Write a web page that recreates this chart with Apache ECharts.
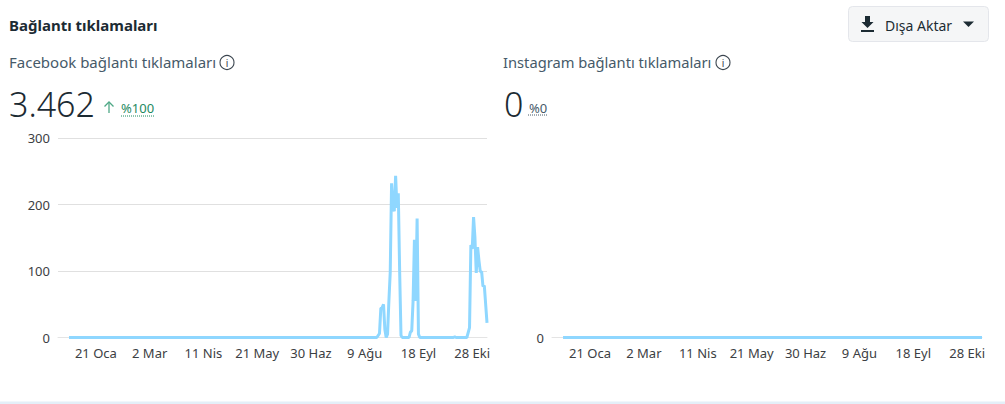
<!DOCTYPE html>
<html><head><meta charset="utf-8">
<style>html,body{margin:0;padding:0;background:#fff}#c{width:1005px;height:404px}</style>
<script src="https://cdn.jsdelivr.net/npm/echarts@6/dist/echarts.min.js"></script>
</head><body><div id="c"></div>
<script>
const tickDays   = [20,60,100,140,180,220,260,300];
const tickLabels = ['21 Oca','2 Mar','11 Nis','21 May','30 Haz','9 Ağu','18 Eyl','28 Eki'];
const fbDays   = [0,229,230,231,232,233,234,235,236,237,238,239,240,241,242,243,244,245,246,247,248,253,254,255,256,257,258,259,260,261,286,287,288,296,298,299,300,301,302,303,304,305,306,307,308,309,310,311];
const fbValues = [0,0,3,6,44,45,50,12,0,5,55,98,232,195,190,243,195,217,100,3,0,0,8,10,55,147,55,179,5,0,0,1,0,0,15,139,133,181,151,97,136,116,99,99,77,78,50,22];
const igDays   = [0,311];
const igValues = [0,0];
const yTicksIg = [0];
const pair = (a,b)=>a.map((d,i)=>[d,b[i]]);

const font='"Noto Sans", sans-serif';
const lineColor='#8fd7ff';
function xAxis(i,min){return {gridIndex:i,type:'value',min:min,max:311,
  splitLine:{show:false},
  axisLine:{show:true,onZero:false,lineStyle:{color:'#e4e4e4',width:1}},
  axisTick:{show:false},
  axisLabel:{customValues:tickDays,color:'#3c4043',fontFamily:font,fontSize:13,margin:9,hideOverlap:false,
    formatter:v=>tickLabels[tickDays.indexOf(v)]}};}
function txt(x,y,s,size,color,weight){return {type:'text',x:x,y:y,silent:true,
  style:{text:s,font:(weight||400)+' '+size+'px '+font,fill:color,verticalAlign:'middle'}};}
function info(x,y){return [
  {type:'circle',silent:true,shape:{cx:x,cy:y,r:7},style:{fill:'none',stroke:'#3c4650',lineWidth:1.1}},
  {type:'text',silent:true,x:x,y:y,style:{text:'i',font:'400 10px '+font,fill:'#3c4650',align:'center',verticalAlign:'middle'}}];}
const graphicEls=[
  txt(9,25,'Bağlantı tıklamaları',15,'#1c2b33',700),
  txt(9,62,'Facebook bağlantı tıklamaları',15,'#465a69',400),
  ...info(227,62.5),
  txt(9,104,'3.462',34,'#1c2b33',300),
  {type:'polyline',silent:true,shape:{points:[[109,113],[109,102]]},style:{stroke:'#4fa886',fill:'none',lineWidth:1.3}},
  {type:'polyline',silent:true,shape:{points:[[104.5,106.5],[109,102],[113.5,106.5]]},style:{stroke:'#4fa886',fill:'none',lineWidth:1.3}},
  txt(121,108,'%100',13,'#1e8a5f',400),
  {type:'line',silent:true,shape:{x1:121,y1:116,x2:154,y2:116},style:{stroke:'#1e8a5f',lineWidth:1,lineDash:[1,1]}},
  {type:'text',silent:true,x:503,y:62,style:{text:'Instagram bağlantı tıklamaları',font:'400 14.7px '+font,fill:'#465a69',verticalAlign:'middle'}},
  ...info(723,62.5),
  txt(504,104,'0',34,'#1c2b33',300),
  txt(529,108,'%0',13,'#465a69',400),
  {type:'line',silent:true,shape:{x1:528,y1:115,x2:547,y2:115},style:{stroke:'#465a69',lineWidth:1,lineDash:[1,1]}},
  {type:'rect',silent:true,shape:{x:848.5,y:6.5,width:140,height:35,r:4},style:{fill:'#f5f6f7',stroke:'#e4e6eb',lineWidth:1}},
  {type:'polygon',silent:true,shape:{points:[[865,16],[870,16],[870,22],[873.5,22],[867.5,28],[861.5,22],[865,22]]},style:{fill:'#1c2b33'}},
  {type:'rect',silent:true,shape:{x:861,y:30,width:13,height:2},style:{fill:'#1c2b33'}},
  txt(885,25,'Dışa Aktar',14,'#1c2b33',400),
  {type:'polygon',silent:true,shape:{points:[[963,21.5],[974,21.5],[968.5,27]]},style:{fill:'#1c2b33'}},
  {type:'rect',silent:true,shape:{x:0,y:401.5,width:1005,height:2.5},style:{fill:'#e4eff8'}}
];
const chart=echarts.init(document.getElementById('c'),null,{renderer:'svg'});
chart.setOption({
  animation:false,
  backgroundColor:'#fff',
  grid:[{left:58,right:518,top:138,height:199.5},{left:552,right:23,top:138,height:199.5}],
  xAxis:[xAxis(0,-8.2),xAxis(1,-8.2)],
  yAxis:[
    {gridIndex:0,type:'value',min:0,max:300,interval:100,
     axisLine:{show:false},axisTick:{show:false},
     axisLabel:{color:'#3c4043',fontFamily:font,fontSize:13,margin:8},
     splitLine:{lineStyle:{color:'#e0e0e0',width:1}}},
    {gridIndex:1,type:'value',min:0,max:1,interval:1,
     axisLine:{show:false},axisTick:{show:false},
     axisLabel:{color:'#3c4043',fontFamily:font,fontSize:13,margin:8,
       formatter:v=>yTicksIg.includes(v)?String(v):''},
     splitLine:{show:false}}],
  series:[
    {type:'line',xAxisIndex:0,yAxisIndex:0,data:pair(fbDays,fbValues),showSymbol:false,
     lineStyle:{color:lineColor,width:3},clip:false},
    {type:'line',xAxisIndex:1,yAxisIndex:1,data:pair(igDays,igValues),showSymbol:false,
     lineStyle:{color:lineColor,width:3},clip:false}],
  graphic:{elements:graphicEls}
});
</script></body></html>
